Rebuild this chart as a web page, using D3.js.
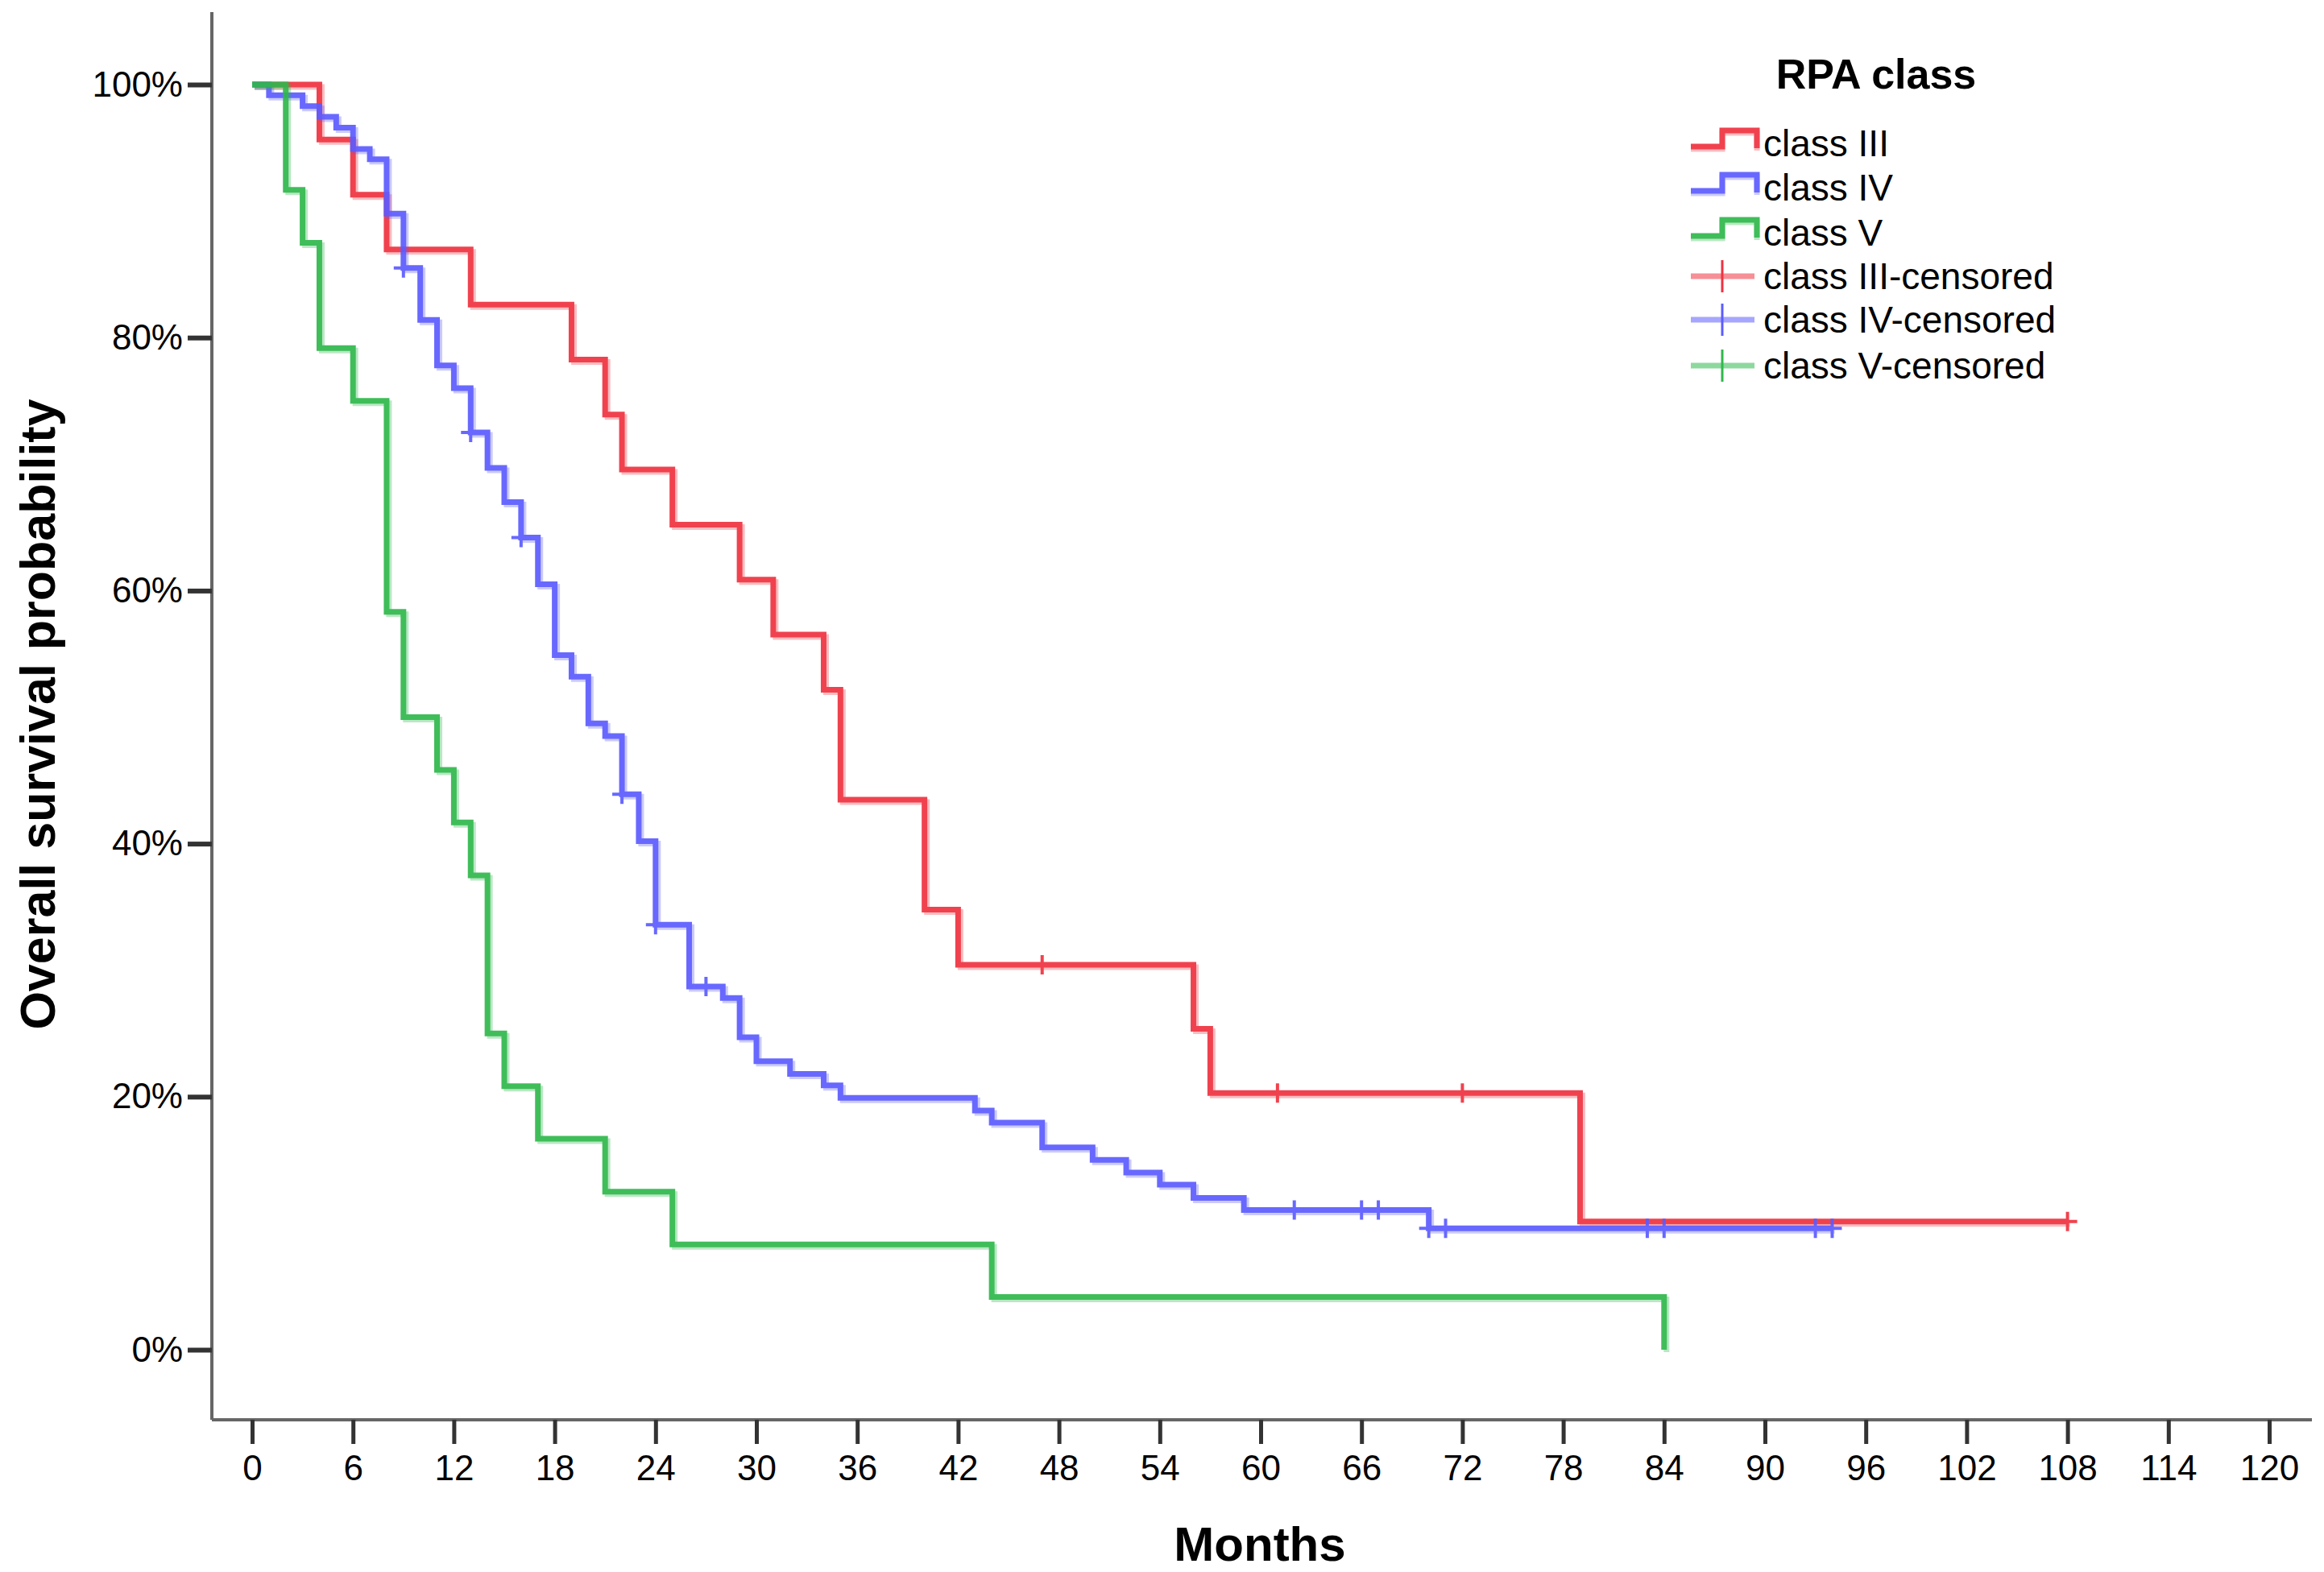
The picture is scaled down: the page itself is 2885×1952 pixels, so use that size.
<!DOCTYPE html>
<html>
<head>
<meta charset="utf-8">
<script src="https://cdn.jsdelivr.net/npm/d3@7"></script>
<style>
  body { margin: 0; background: #fff; }
  text { font-family: "Liberation Sans", Arial, sans-serif; fill: #000; }
</style>
</head>
<body>
<script>
// months / survival %
const class3Times = [0, 4, 6, 8, 13, 19, 21, 22, 25, 29, 31, 34, 35, 40, 42, 56, 57, 79, 108];
const class3Surv = [100, 95.65, 91.3, 86.96, 82.61, 78.26, 73.91, 69.57, 65.22, 60.87, 56.52, 52.17, 43.48, 34.78, 30.43, 25.36, 20.29, 10.14, 10.14];
const class3Censored = [47, 61, 72, 108];

const class4Times = [0, 1, 3, 4, 5, 6, 7, 8, 9, 10, 11, 12, 13, 14, 15, 16, 17, 18, 19, 20, 21, 22, 23, 24, 26, 28, 29, 30, 32, 34, 35, 43, 44, 47, 50, 52, 54, 56, 59, 70, 94];
const class4Surv = [100, 99.15, 98.3, 97.46, 96.6, 94.9, 94.1, 89.8, 85.5, 81.4, 77.8, 76.0, 72.5, 69.7, 67.0, 64.2, 60.5, 54.9, 53.2, 49.5, 48.5, 43.9, 40.2, 33.6, 28.7, 27.8, 24.7, 22.8, 21.8, 20.9, 19.9, 18.9, 17.95, 16.0, 15.0, 14.0, 13.05, 12.0, 11.05, 9.6, 9.6];
const class4Censored = [9, 13, 16, 22, 24, 27, 62, 66, 67, 70, 71, 83, 84, 93, 94];

const class5Times = [0, 2, 3, 4, 6, 8, 9, 11, 12, 13, 14, 15, 17, 21, 25, 44, 84];
const class5Surv = [100, 91.67, 87.5, 79.17, 75, 58.33, 50, 45.83, 41.67, 37.5, 25, 20.83, 16.67, 12.5, 8.33, 4.17, 0];
const class5Censored = [];

const seriesNames = ["class III", "class IV", "class V"];
const seriesColors = ["#ef3340", "#5c5cff", "#2fb84c"];

const xTicks = d3.range(0, 121, 6);
const yTicks = [0, 20, 40, 60, 80, 100];

const series = [
  { name: seriesNames[0], times: class3Times, surv: class3Surv, cens: class3Censored, color: seriesColors[0] },
  { name: seriesNames[1], times: class4Times, surv: class4Surv, cens: class4Censored, color: seriesColors[1] },
  { name: seriesNames[2], times: class5Times, surv: class5Surv, cens: class5Censored, color: seriesColors[2] },
];

//SVG size
const w = 2885;
const h = 1952;

//plot frame
const axisLeftX = 263;
const axisBottomY = 1763;

const svg = d3.select("body").append("svg").attr("width", w).attr("height", h);

const x = d3.scaleLinear().domain([0, 120]).range([313, 2817]);
const y = d3.scaleLinear().domain([0, 100]).range([1676, 105]);

// axis lines
svg.append("line")
  .attr("x1", axisLeftX).attr("x2", axisLeftX)
  .attr("y1", 15).attr("y2", axisBottomY)
  .attr("stroke", "#666").attr("stroke-width", 4);
svg.append("line")
  .attr("x1", axisLeftX).attr("x2", 2870)
  .attr("y1", axisBottomY).attr("y2", axisBottomY)
  .attr("stroke", "#666").attr("stroke-width", 4);

// x axis
const gx = svg.append("g")
  .attr("transform", `translate(0,${axisBottomY})`)
  .call(d3.axisBottom(x).tickValues(xTicks).tickSize(30).tickPadding(14));
gx.select(".domain").remove();
gx.selectAll(".tick line").attr("stroke", "#333").attr("stroke-width", 5);
gx.selectAll(".tick text")
  .attr("font-size", 44)
  .attr("font-family", "Liberation Sans, Arial, sans-serif")
  .attr("fill", "#000");

// y axis
const gy = svg.append("g")
  .attr("transform", `translate(${axisLeftX},0)`)
  .call(d3.axisLeft(y).tickValues(yTicks).tickFormat((d) => d + "%").tickSize(30).tickPadding(6));
gy.select(".domain").remove();
gy.selectAll(".tick line").attr("stroke", "#333").attr("stroke-width", 6);
gy.selectAll(".tick text")
  .attr("font-size", 44)
  .attr("font-family", "Liberation Sans, Arial, sans-serif")
  .attr("fill", "#000");

// axis titles
svg.append("text")
  .attr("x", 1564).attr("y", 1938)
  .attr("text-anchor", "middle")
  .attr("font-size", 60).attr("font-weight", "bold")
  .text("Months");

svg.append("text")
  .attr("transform", "translate(68,887) rotate(-90)")
  .attr("text-anchor", "middle")
  .attr("font-size", 61).attr("font-weight", "bold")
  .text("Overall survival probability");

// curves
const stepLine = d3.line()
  .x((d) => x(d[0]))
  .y((d) => y(d[1]))
  .curve(d3.curveStepAfter);

const survAt = (s, t) => {
  let v = s.surv[0];
  s.times.forEach((tt, i) => { if (tt <= t) v = s.surv[i]; });
  return v;
};

series.forEach((s) => {
  const pts = s.times.map((t, i) => [t, s.surv[i]]);
  const g = svg.append("g").attr("opacity", 0.92);

  g.append("path")
    .attr("d", stepLine(pts))
    .attr("transform", "translate(3,3)")
    .attr("fill", "none")
    .attr("stroke", s.color)
    .attr("stroke-opacity", 0.35)
    .attr("stroke-width", 7);

  g.append("path")
    .attr("d", stepLine(pts))
    .attr("fill", "none")
    .attr("stroke", s.color)
    .attr("stroke-width", 7);

  g.selectAll(".cens")
    .data(s.cens)
    .enter()
    .append("path")
    .attr("class", "cens")
    .attr("d", (t) => {
      const cx = x(t);
      const cy = y(survAt(s, t));
      return `M${cx},${cy - 12}V${cy + 12}M${cx - 12},${cy}H${cx + 12}`;
    })
    .attr("stroke", s.color)
    .attr("stroke-width", 4)
    .attr("fill", "none");
});

// legend
svg.append("text")
  .attr("x", 2329).attr("y", 110)
  .attr("text-anchor", "middle")
  .attr("font-size", 52).attr("font-weight", "bold")
  .text("RPA class");

const legendRows = [178, 233, 289, 343, 397, 454];
const legendX0 = 2099;
const legendXm = 2138;
const legendX1 = 2181;

series.forEach((s, i) => {
  const ry = legendRows[i];
  const g = svg.append("g").attr("opacity", 0.92);
  const d = `M${legendX0},${ry + 4}H${legendXm}V${ry - 16}H${legendX1}V${ry + 6}`;
  g.append("path").attr("d", d).attr("transform", "translate(0,3)")
    .attr("fill", "none").attr("stroke", s.color).attr("stroke-opacity", 0.35).attr("stroke-width", 7);
  g.append("path").attr("d", d)
    .attr("fill", "none").attr("stroke", s.color).attr("stroke-width", 7);
  svg.append("text")
    .attr("x", 2189).attr("y", ry).attr("dy", "0.35em")
    .attr("font-size", 46)
    .text(s.name);
});

series.forEach((s, i) => {
  const ry = legendRows[i + 3];
  svg.append("line")
    .attr("x1", legendX0).attr("x2", 2178).attr("y1", ry).attr("y2", ry)
    .attr("stroke", s.color).attr("stroke-opacity", 0.55).attr("stroke-width", 7);
  svg.append("line")
    .attr("x1", legendXm).attr("x2", legendXm).attr("y1", ry - 20).attr("y2", ry + 20)
    .attr("stroke", s.color).attr("stroke-width", 3);
  svg.append("text")
    .attr("x", 2189).attr("y", ry).attr("dy", "0.35em")
    .attr("font-size", 46)
    .text(s.name + "-censored");
});
</script>
</body>
</html>
